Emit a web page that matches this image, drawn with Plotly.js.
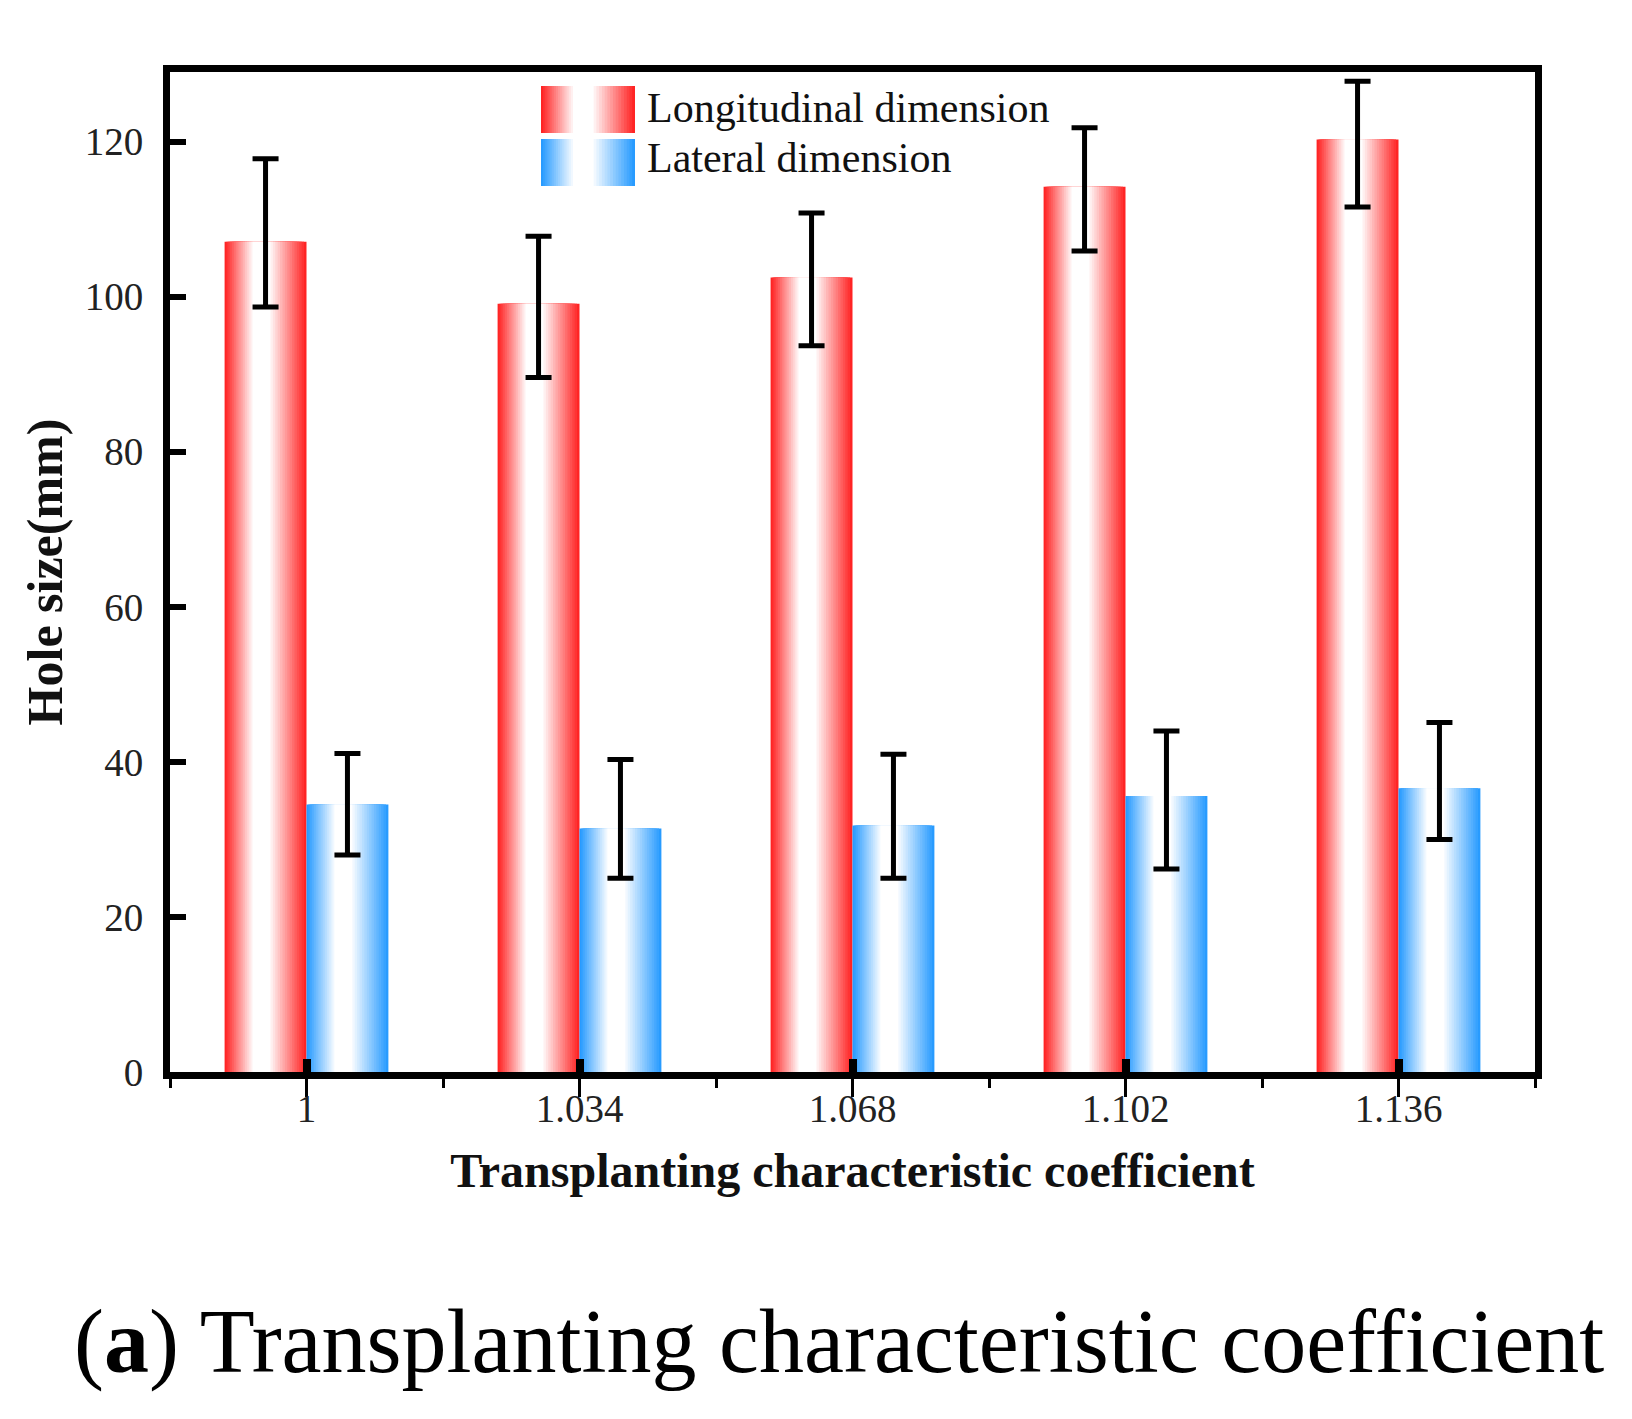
<!DOCTYPE html>
<html>
<head>
<meta charset="utf-8">
<script src="https://cdn.plot.ly/plotly-3.0.1.min.js"></script>
<style>
  html, body { margin: 0; padding: 0; background: #ffffff; }
  #chart { width: 1632px; height: 1419px; }
</style>
</head>
<body>
<div id="chart"></div>
<script>
// ---------------- data ----------------
const categories = ['1', '1.034', '1.068', '1.102', '1.136'];
const seriesNames = ['Longitudinal dimension', 'Lateral dimension'];
const longitudinal = [107.1, 99.1, 102.5, 114.2, 120.3];
const longErrPlus = [10.7, 8.7, 8.3, 7.6, 7.5];
const longErrMinus = [8.4, 9.5, 8.8, 8.3, 8.7];
const lateral = [34.5, 31.4, 31.8, 35.6, 36.6];
const latErrPlus = [6.6, 8.9, 9.2, 8.4, 8.5];
const latErrMinus = [6.5, 6.4, 6.8, 9.4, 6.6];
const yTicks = [0, 20, 40, 60, 80, 100, 120];

// ---------------- style ----------------
const RED = [255, 36, 36];
const BLUE = [40, 155, 255];
const BAR_W = 0.3;
const N_LAYERS = 16;
const LEFT_RAMP = 0.34, RIGHT_RAMP = 0.44;
const SERIF = '"Liberation Serif", "Times New Roman", serif';

function mix(c, f) {
  const r = Math.round(c[0] + (255 - c[0]) * f);
  const g = Math.round(c[1] + (255 - c[1]) * f);
  const b = Math.round(c[2] + (255 - c[2]) * f);
  return 'rgb(' + r + ',' + g + ',' + b + ')';
}

// gradient layers: fraction bounds within a bar + color
function gradientLayers(edge) {
  const out = [];
  for (let k = 0; k < N_LAYERS; k++) {
    const f = k / (N_LAYERS - 1);
    const l = LEFT_RAMP * f;
    const r = 1 - RIGHT_RAMP * f;
    out.push({ l: l, r: r, color: mix(edge, f) });
  }
  return out;
}

const traces = [];
function addGradientBars(values, edge, offset) {
  gradientLayers(edge).forEach(function (ly) {
    traces.push({
      type: 'bar',
      x: categories,
      y: values,
      width: BAR_W * (ly.r - ly.l),
      offset: offset + BAR_W * ly.l,
      marker: { color: ly.color, line: { width: 0 } },
      showlegend: false,
      hoverinfo: 'skip'
    });
  });
}
addGradientBars(longitudinal, RED, -BAR_W);
addGradientBars(lateral, BLUE, 0);

function addErrors(values, plus, minus, offset, name) {
  traces.push({
    type: 'bar',
    name: name,
    x: categories,
    y: values,
    width: BAR_W,
    offset: offset,
    marker: { color: 'rgba(0,0,0,0)', line: { width: 0 } },
    error_y: { type: 'data', symmetric: false, array: plus, arrayminus: minus,
               color: '#000000', thickness: 5, width: 13, visible: true },
    showlegend: false,
    hoverinfo: 'skip'
  });
}
addErrors(longitudinal, longErrPlus, longErrMinus, -BAR_W, seriesNames[0]);
addErrors(lateral, latErrPlus, latErrMinus, 0, seriesNames[1]);

// dummy traces so the tick-only overlay axes are drawn
traces.push({ type: 'scatter', x: [], y: [], xaxis: 'x2', yaxis: 'y', showlegend: false, hoverinfo: 'skip' });
traces.push({ type: 'scatter', x: [], y: [], xaxis: 'x3', yaxis: 'y', showlegend: false, hoverinfo: 'skip' });

// ---------------- custom legend (shapes + text) ----------------
const L = 170, R = 1535, T = 72, B = 1072;
function px(x) { return (x - L) / (R - L); }
function py(y) { return (B - y) / (B - T); }
const shapes = [];
const annotations = [];
function legendItem(edge, x0, y0, x1, y1, label, ty) {
  gradientLayers(edge).forEach(function (ly) {
    shapes.push({
      type: 'rect', xref: 'paper', yref: 'paper',
      x0: px(x0 + (x1 - x0) * ly.l), x1: px(x0 + (x1 - x0) * ly.r),
      y0: py(y1), y1: py(y0),
      fillcolor: ly.color, line: { width: 0 }, layer: 'above'
    });
  });
  annotations.push({
    xref: 'paper', yref: 'paper', x: px(x1 + 10), y: py(ty),
    xanchor: 'left', yanchor: 'middle', showarrow: false,
    text: label, font: { family: SERIF, size: 42, color: '#111111' }
  });
}
legendItem(RED, 541, 86, 635, 133, seriesNames[0], 108);
legendItem(BLUE, 541, 139, 635, 186, seriesNames[1], 158);

// caption
annotations.push({
  xref: 'paper', yref: 'paper', x: px(72), y: py(1342),
  xanchor: 'left', yanchor: 'middle', showarrow: false,
  text: '(<b>a</b>) Transplanting characteristic coefficient',
  font: { family: SERIF, size: 90, color: '#000000' }
});

const layout = {
  width: 1632, height: 1419,
  margin: { l: L, r: 1632 - R, t: T, b: 1419 - B, pad: 0 },
  paper_bgcolor: '#ffffff', plot_bgcolor: '#ffffff',
  barmode: 'overlay',
  showlegend: false,
  font: { family: SERIF, color: '#111111' },
  xaxis: {
    type: 'category',
    range: [-0.5, 4.5],
    showline: true, linewidth: 7, linecolor: '#000000', mirror: true,
    ticks: 'outside', ticklen: 18, tickwidth: 3, tickcolor: '#000000',
    tickfont: { family: SERIF, size: 39, color: '#222222' },
    ticklabelstandoff: -22,
    showgrid: false, zeroline: false, fixedrange: true,
    title: { text: '<b>Transplanting characteristic coefficient</b>',
             font: { family: SERIF, size: 48, color: '#111111' }, standoff: 27 }
  },
  xaxis2: {
    overlaying: 'x', anchor: 'y', side: 'bottom', type: 'linear',
    range: [-0.5, 4.5], tickmode: 'array', tickvals: [-0.5, 0.5, 1.5, 2.5, 3.5, 4.5],
    ticks: 'outside', ticklen: 9, tickwidth: 3, tickcolor: '#000000',
    showticklabels: false, showline: true, linewidth: 7, linecolor: '#000000',
    showgrid: false, zeroline: false, fixedrange: true
  },
  xaxis3: {
    overlaying: 'x', anchor: 'y', side: 'bottom', type: 'linear',
    range: [-0.5, 4.5], tickmode: 'array', tickvals: [0, 1, 2, 3, 4],
    ticks: 'inside', ticklen: 13, tickwidth: 8, tickcolor: '#000000',
    showticklabels: false, showline: true, linewidth: 7, linecolor: '#000000',
    showgrid: false, zeroline: false, fixedrange: true
  },
  yaxis: {
    range: [0, 129],
    tickmode: 'array', tickvals: yTicks,
    showline: true, linewidth: 7, linecolor: '#000000', mirror: true,
    ticks: 'inside', ticklen: 16, tickwidth: 6, tickcolor: '#000000',
    tickfont: { family: SERIF, size: 39, color: '#222222' },
    ticklabelstandoff: 12,
    showgrid: false, zeroline: false, fixedrange: true,
    title: { text: '<b>Hole size(mm)</b>',
             font: { family: SERIF, size: 50, color: '#111111' }, standoff: 9 }
  },
  shapes: shapes,
  annotations: annotations
};

Plotly.newPlot('chart', traces, layout, { staticPlot: true, displayModeBar: false });
</script>
</body>
</html>
